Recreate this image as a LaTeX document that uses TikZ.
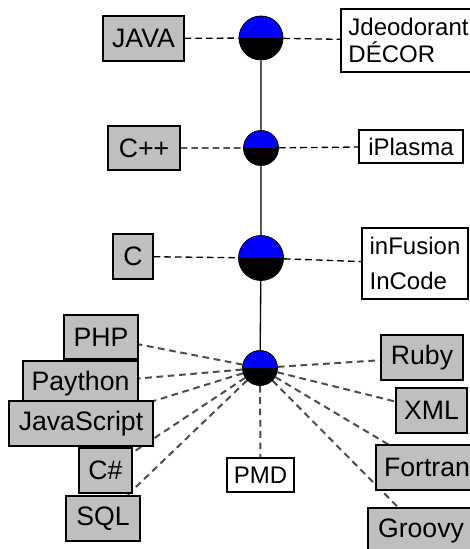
\documentclass[tikz,border=0pt]{standalone}
\usepackage{fontspec}
\setmainfont{Liberation Sans}
\usetikzlibrary{backgrounds}

\tikzset{
  lang/.style={draw=black, line width=0.9pt, fill=lightgray, inner sep=0pt, font=\fontsize{20}{23}\selectfont},
  tool/.style={draw=black, line width=0.9pt, fill=white, inner sep=0pt, align=left, font=\fontsize{18}{20}\selectfont},
  ball/.style={circle, draw=black, line width=0.6pt, fill=black, inner sep=0pt,
    path picture={\fill[blue] (path picture bounding box.west) rectangle (path picture bounding box.north east);}},
  link/.style={dash pattern=on 5pt off 3pt, line width=1pt},
  spoke/.style={dash pattern=on 5pt off 3.5pt, line width=1.5pt, draw=black!70},
}

\begin{document}
\begin{tikzpicture}[x=0.75pt,y=0.75pt,yscale=-1,xscale=1]
    \path [use as bounding box] (0,0) rectangle (470,549);

    %Shape: Circle
    \draw (261,38) node [ball, minimum size=33pt] (h1) {};
    %Shape: Circle
    \draw (261,148) node [ball, minimum size=26.25pt] (h2) {};
    %Shape: Circle
    \draw (261,258) node [ball, minimum size=33.75pt] (h3) {};
    %Shape: Circle
    \draw (260,368) node [ball, minimum size=26.25pt] (h4) {};

    % Text Node
    \draw (143.5,38.5) node [lang, minimum width=60.75pt, minimum height=33.75pt] (java) {JAVA};
    % Text Node
    \draw (408.5,40.5) node [tool, minimum width=101.25pt, minimum height=47.25pt] (jdeo) {Jdeodorant\\DÉCOR};
    % Text Node
    \draw (144,148) node [lang, minimum width=54pt, minimum height=33pt] (cpp) {C++};
    % Text Node
    \draw (411,146.5) node [tool, minimum width=78pt, minimum height=24.75pt] (iplasma) {iPlasma};
    % Text Node
    \draw (133,256.5) node [lang, minimum width=30pt, minimum height=33.75pt] (c) {C};
    % Text Node
    \draw (415,263.5) node [tool, minimum width=79.5pt, minimum height=53.25pt] (infusion) {inFusion\\[6pt]InCode};

    % Text Node
    \draw (101,337) node [lang, minimum width=55.5pt, minimum height=33pt] (php) {PHP};
    % Text Node
    \draw (80.5,383.5) node [lang, minimum width=86.25pt, minimum height=33.75pt] (paython) {Paython};
    % Text Node
    \draw (81,423.5) node [lang, minimum width=108pt, minimum height=33.75pt] (js) {JavaScript};
    % Text Node
    \draw (105.5,470.5) node [lang, minimum width=39.75pt, minimum height=33.75pt] (csharp) {C\#};
    % Text Node
    \draw (103,518.5) node [lang, minimum width=55.5pt, minimum height=33.75pt] (sql) {SQL};
    % Text Node
    \draw (260.5,475) node [tool, minimum width=50.25pt, minimum height=25.5pt] (pmd) {PMD};
    % Text Node
    \draw (422,357.5) node [lang, minimum width=61.5pt, minimum height=33.75pt] (ruby) {Ruby};
    % Text Node
    \draw (431.5,410.5) node [lang, minimum width=53.25pt, minimum height=33.75pt] (xml) {XML};
    % Text Node
    \draw (427,467.5) node [lang, minimum width=76.5pt, minimum height=33.75pt] (fortran) {Fortran};
    % Text Node
    \draw (421,530.5) node [lang, minimum width=79.5pt, minimum height=33.75pt] (groovy) {Groovy};

    % axis
    \draw [line width=1pt] (h1) -- (h2) (h2) -- (h3) (h3) -- (h4);
    % tools and languages
    \draw [link] (java) -- (h1) -- (jdeo);
    \draw [link] (cpp) -- (h2) -- (iplasma);
    \draw [link] (c) -- (h3) -- (infusion);
    \begin{pgfonlayer}{background}
    \foreach \n in {php,paython,js,csharp,sql,pmd,ruby,xml,fortran,groovy}
      \draw [spoke] (h4) -- (\n);
    \end{pgfonlayer}

\end{tikzpicture}
\end{document}
